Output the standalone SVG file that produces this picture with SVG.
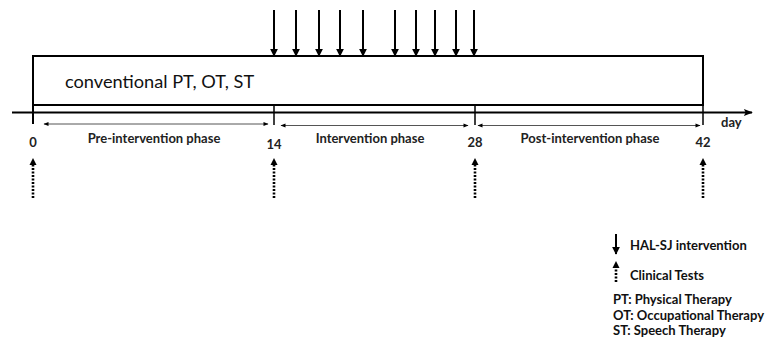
<svg xmlns="http://www.w3.org/2000/svg" width="767" height="345" viewBox="0 0 767 345">
<defs>
<marker id="ahs" viewBox="0 0 10 10" refX="9" refY="5" markerWidth="6" markerHeight="5" orient="auto-start-reverse" markerUnits="userSpaceOnUse"><path d="M0,1 L10,5 L0,9 z" fill="#000"/></marker>
<marker id="ahd" viewBox="0 0 10 10" refX="9" refY="5" markerWidth="8" markerHeight="8" orient="auto" markerUnits="userSpaceOnUse"><path d="M0,0 L10,5 L0,10 z" fill="#000"/></marker>
<marker id="aht" viewBox="0 0 10 10" refX="0" refY="5" markerWidth="7" markerHeight="8" orient="auto" markerUnits="userSpaceOnUse"><path d="M0,0 L10,5 L0,10 z" fill="#000"/></marker>
<marker id="ahx" viewBox="0 0 10 10" refX="9" refY="5" markerWidth="14" markerHeight="9" orient="auto" markerUnits="userSpaceOnUse"><path d="M0,1 L10,5 L0,9 L2,5 z" fill="#000"/></marker>
</defs>
<style>
text{font-family:Lato,"Open Sans","Liberation Sans",sans-serif;fill:#111}
.lbl{font-size:13px;font-weight:bold;text-anchor:middle;fill:#222}
.leg{font-size:13px;font-weight:bold;fill:#111}
.ln{stroke:#000;fill:none}
.down{stroke:#000;stroke-width:2;marker-end:url(#ahd)}
.dot{stroke:#000;stroke-width:2.6;stroke-dasharray:2 1.5;marker-end:url(#aht)}
.ph{stroke:#555;stroke-width:1;marker-start:url(#ahs);marker-end:url(#ahs)}
</style>
<rect width="767" height="345" fill="#fff"/>
<g id="box">
<rect x="33" y="56" width="670" height="49" class="ln" stroke-width="2"/>
<text x="65" y="88" style="font-size:18.2px">conventional PT, OT, ST</text>
</g>
<g id="axis">
<line x1="12" y1="112.5" x2="752" y2="112.5" class="ln" stroke-width="2" marker-end="url(#ahx)"/>
<line x1="33" y1="105" x2="33" y2="124" class="ln" stroke-width="2"/>
<line x1="274" y1="106" x2="274" y2="125" class="ln" stroke-width="1.5"/>
<line x1="475" y1="106" x2="475" y2="125" class="ln" stroke-width="1.5"/>
<line x1="703" y1="105" x2="703" y2="125" class="ln" stroke-width="1.5"/>
<text x="721" y="127" style="font-size:13px;font-weight:bold;fill:#222">day</text>
</g>
<g id="labels">
<text class="lbl" x="33" y="147">0</text>
<text class="lbl" x="274" y="149">14</text>
<text class="lbl" x="475" y="147">28</text>
<text class="lbl" x="703" y="147">42</text>
<text class="lbl" x="154" y="143">Pre-intervention phase</text>
<text class="lbl" x="370" y="143">Intervention phase</text>
<text class="lbl" x="590" y="143">Post-intervention phase</text>
</g>
<g id="connectors">
<line class="ph" x1="44" y1="124" x2="268" y2="124"/>
<line class="ph" x1="281" y1="125.5" x2="468" y2="125.5"/>
<line class="ph" x1="478" y1="125.5" x2="700" y2="125.5"/>
<line class="down" x1="274" y1="10" x2="274" y2="56"/>
<line class="down" x1="296" y1="10" x2="296" y2="56"/>
<line class="down" x1="319" y1="10" x2="319" y2="56"/>
<line class="down" x1="340" y1="10" x2="340" y2="56"/>
<line class="down" x1="363" y1="10" x2="363" y2="56"/>
<line class="down" x1="395" y1="10" x2="395" y2="56"/>
<line class="down" x1="416" y1="10" x2="416" y2="56"/>
<line class="down" x1="435" y1="10" x2="435" y2="56"/>
<line class="down" x1="456" y1="10" x2="456" y2="56"/>
<line class="down" x1="474" y1="10" x2="474" y2="56"/>
<line class="dot" x1="33" y1="198" x2="33" y2="165"/>
<line class="dot" x1="274" y1="198" x2="274" y2="165"/>
<line class="dot" x1="475" y1="198" x2="475" y2="165"/>
<line class="dot" x1="703" y1="198" x2="703" y2="165"/>
</g>
<g id="legend">
<line class="down" x1="616" y1="234" x2="616" y2="254"/>
<text class="leg" x="630" y="250">HAL-SJ intervention</text>
<line class="dot" x1="616" y1="282" x2="616" y2="268"/>
<text class="leg" x="630" y="280">Clinical Tests</text>
<text class="leg" x="613" y="304">PT: Physical Therapy</text>
<text class="leg" x="613" y="320">OT: Occupational Therapy</text>
<text class="leg" x="613" y="335">ST: Speech Therapy</text>
</g>
</svg>
